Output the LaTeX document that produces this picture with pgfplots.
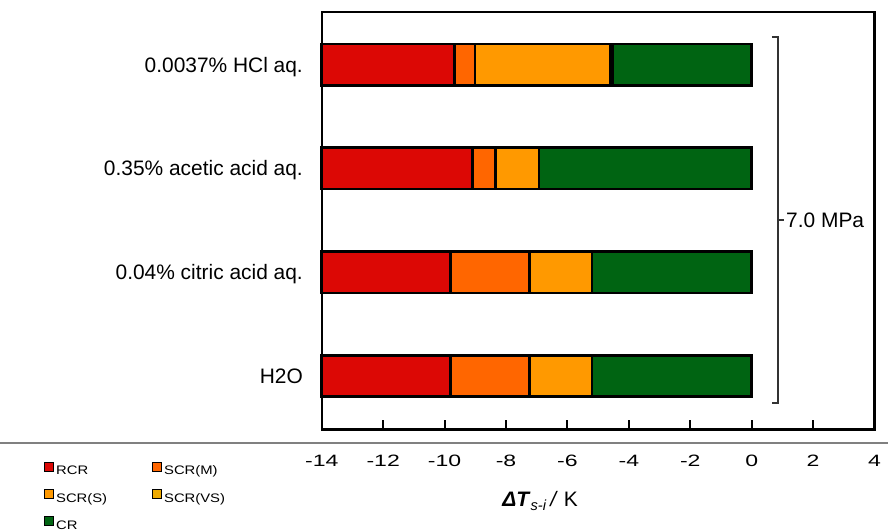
\documentclass[border=0pt]{standalone}
\usepackage{pgfplots}
\pgfplotsset{compat=1.18}
\usepackage{fontspec}
\setmainfont{Liberation Sans}
\definecolor{RCRc}{RGB}{220,8,5}
\definecolor{SCRMc}{RGB}{255,102,0}
\definecolor{SCRSc}{RGB}{255,153,0}
\definecolor{SCRVSc}{RGB}{238,170,0}
\definecolor{CRc}{RGB}{0,100,18}
\definecolor{sepgray}{RGB}{128,128,128}
\newcommand\sx[1]{\scalebox{1.4}[1]{#1}}
\newcommand\lx[1]{\makebox[96bp][l]{\scalebox{1.2}[1]{#1}}}
\begin{document}
\begin{tikzpicture}
\begin{axis}[
  x=30.71bp, y=103.8bp,
  xmin=-14, xmax=4, ymin=-0.515, ymax=3.505,
  xbar stacked, bar width=41.5bp,
  axis line style={line width=2.4bp},
  xtick={-14,-12,-10,-8,-6,-4,-2,0,2,4},
  xticklabels={\sx{-14},\sx{-12},\sx{-10},\sx{-8},\sx{-6},\sx{-4},\sx{-2},\sx{0},\sx{2},\sx{4}},
  xtick pos=lower, tick align=inside, major tick length=9bp,
  xtick style={line width=2bp, black},
  ytick={0,1,2,3},
  yticklabels={H2O, 0.04\% citric acid aq., 0.35\% acetic acid aq., 0.0037\% HCl aq.},
  ytick style={draw=none},
  xticklabel style={font=\fontsize{16.5}{16.5}\selectfont, anchor=center, yshift=-31.7bp, inner sep=0pt},
  yticklabel style={font=\fontsize{21}{21}\selectfont, anchor=base east, yshift=-7.5bp, xshift=-18.7bp, inner sep=0pt},
  clip=false,
  legend columns=2,
  legend style={at={(axis cs:-23.04,-0.8256)}, anchor=north west, draw=none, fill=none,
    inner sep=0pt, outer sep=0pt, row sep=14bp,
    font=\fontsize{12.4}{12.4}\selectfont,
    /tikz/every odd column/.append style={column sep=2bp},
    nodes={inner sep=0pt, text height=8.5bp, text depth=0bp}},
  every axis plot/.append style={draw=black, line width=2.6bp},
]
% stacked from 0 leftwards: CR, SCR(VS), SCR(S), SCR(M), RCR
\addplot[fill=CRc, forget plot] coordinates {(-5.20,0) (-5.20,1) (-6.92,2) (-4.53,3)};
\addplot[fill=SCRVSc, forget plot] coordinates {(0,0) (0,1) (0,2) (-0.08,3)};
\addplot[fill=SCRSc, forget plot] coordinates {(-2.03,0) (-2.03,1) (-1.42,2) (-4.40,3)};
\addplot[fill=SCRMc, forget plot] coordinates {(-2.57,0) (-2.57,1) (-0.76,2) (-0.67,3)};
\addplot[fill=RCRc, forget plot] coordinates {(-4.20,0) (-4.20,1) (-4.90,2) (-4.32,3)};

\addlegendimage{legend image code/.code={\draw[fill=RCRc,draw=black,line width=1bp] (0bp,-0.5bp) rectangle (9bp,8.5bp);}}
\addlegendentry{\lx{RCR}}
\addlegendimage{legend image code/.code={\draw[fill=SCRMc,draw=black,line width=1bp] (0bp,-0.5bp) rectangle (9bp,8.5bp);}}
\addlegendentry{\lx{SCR(M)}}
\addlegendimage{legend image code/.code={\draw[fill=SCRSc,draw=black,line width=1bp] (0bp,-0.5bp) rectangle (9bp,8.5bp);}}
\addlegendentry{\lx{SCR(S)}}
\addlegendimage{legend image code/.code={\draw[fill=SCRVSc,draw=black,line width=1bp] (0bp,-0.5bp) rectangle (9bp,8.5bp);}}
\addlegendentry{\lx{SCR(VS)}}
\addlegendimage{legend image code/.code={\draw[fill=CRc,draw=black,line width=1bp] (0bp,-0.5bp) rectangle (9bp,8.5bp);}}
\addlegendentry{\lx{CR}}

\draw[line width=2bp, sepgray] (axis cs:-24.477,-0.6455) -- (axis cs:4.438,-0.6455);
\draw[line width=1.8bp, black!80] (axis cs:0.66,3.266) -- (axis cs:0.856,3.266) -- (axis cs:0.856,-0.260) -- (axis cs:0.66,-0.260);
\draw[line width=1.8bp, black!80] (axis cs:0.856,1.503) -- (axis cs:1.05,1.503);
\node[anchor=west, inner sep=0pt, font=\fontsize{21}{21}\selectfont] at (axis cs:1.117,1.503) {7.0 MPa};
\node[anchor=base, inner sep=0pt, font=\fontsize{21}{21}\selectfont] at (axis cs:-6.894,-1.262) {\textbf{\textit{ΔT}}\textsubscript{\textit{s-i}}\textit{\,/} K};
\coordinate (BL) at (axis cs:-24.477,-1.4933);
\coordinate (TR) at (axis cs:4.438,3.622);
\end{axis}
\pgfresetboundingbox
\useasboundingbox (BL) rectangle (TR);
\end{tikzpicture}
\end{document}
